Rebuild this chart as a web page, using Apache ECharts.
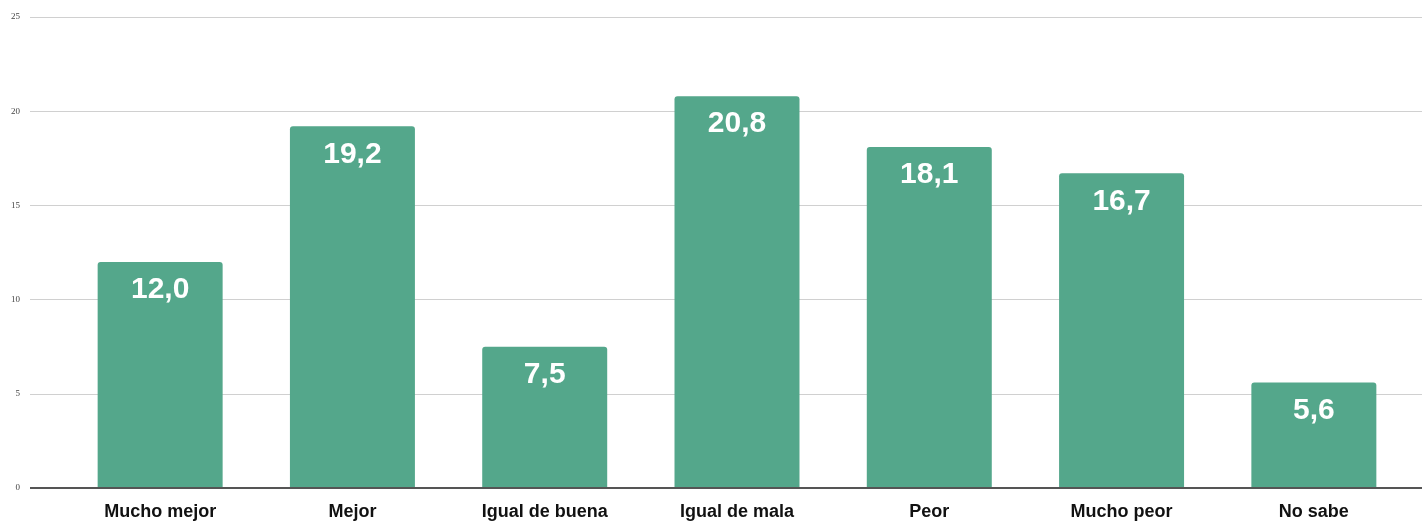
<!DOCTYPE html>
<html>
<head>
<meta charset="utf-8">
<script src="https://cdn.jsdelivr.net/npm/echarts@6/dist/echarts.min.js"></script>
<style>
  html, body { margin: 0; padding: 0; background: #fff; }
  #chart { width: 1422px; height: 525px; }
</style>
</head>
<body>
<div id="chart"></div>
<script>
const categories = ['Mucho mejor', 'Mejor', 'Igual de buena', 'Igual de mala', 'Peor', 'Mucho peor', 'No sabe']
const values = [12.0, 19.2, 7.5, 20.8, 18.1, 16.7, 5.6]
const yTicks = { min: 0, max: 25, interval: 5 }

const chart = echarts.init(document.getElementById('chart'))

// dos grids: uno para las líneas de fondo (más ancho), otro para las barras
const option = {
  animation: false,
  grid: [
    { left: 30, right: 0, top: 17, bottom: 37 },
    { left: 64, right: 12, top: 17, bottom: 37 }
  ],
  xAxis: [
    { gridIndex: 0, type: 'category', data: [''], show: false },
    {
      gridIndex: 1,
      type: 'category',
      data: categories,
      axisLine: { show: false },
      axisTick: { show: false },
      axisLabel: {
        color: '#111',
        fontFamily: 'Liberation Sans, Arial, sans-serif',
        fontWeight: 'bold',
        fontSize: 18,
        margin: 15
      }
    }
  ],
  yAxis: [
    {
      gridIndex: 0,
      type: 'value',
      min: yTicks.min,
      max: yTicks.max,
      interval: yTicks.interval,
      axisLine: { show: false },
      axisTick: { show: false },
      axisLabel: {
        color: '#444',
        fontFamily: 'Liberation Serif, serif',
        fontSize: 9,
        margin: 10
      },
      splitLine: { lineStyle: { color: '#d0d0d0', width: 1 } }
    },
    {
      gridIndex: 1,
      type: 'value',
      min: yTicks.min,
      max: yTicks.max,
      interval: yTicks.interval,
      show: false
    }
  ],
  series: [
    {
      type: 'line',
      xAxisIndex: 0,
      yAxisIndex: 0,
      data: [],
      markLine: {
        silent: true,
        symbol: 'none',
        label: { show: false },
        lineStyle: { color: '#555', type: 'solid', width: 2 },
        data: [{ yAxis: 0 }]
      }
    },
    {
      type: 'bar',
      xAxisIndex: 1,
      yAxisIndex: 1,
      data: values,
      barCategoryGap: '35%',
      itemStyle: { color: '#54a78b', borderRadius: [3, 3, 0, 0] },
      label: {
        show: true,
        position: 'insideTop',
        distance: 13,
        color: '#fff',
        fontFamily: 'Liberation Sans, Arial, sans-serif',
        fontWeight: 'bold',
        fontSize: 30,
        formatter: p => p.value.toFixed(1).replace('.', ',')
      }
    }
  ]
}

chart.setOption(option)
window.addEventListener('resize', () => chart.resize())
</script>
</body>
</html>
